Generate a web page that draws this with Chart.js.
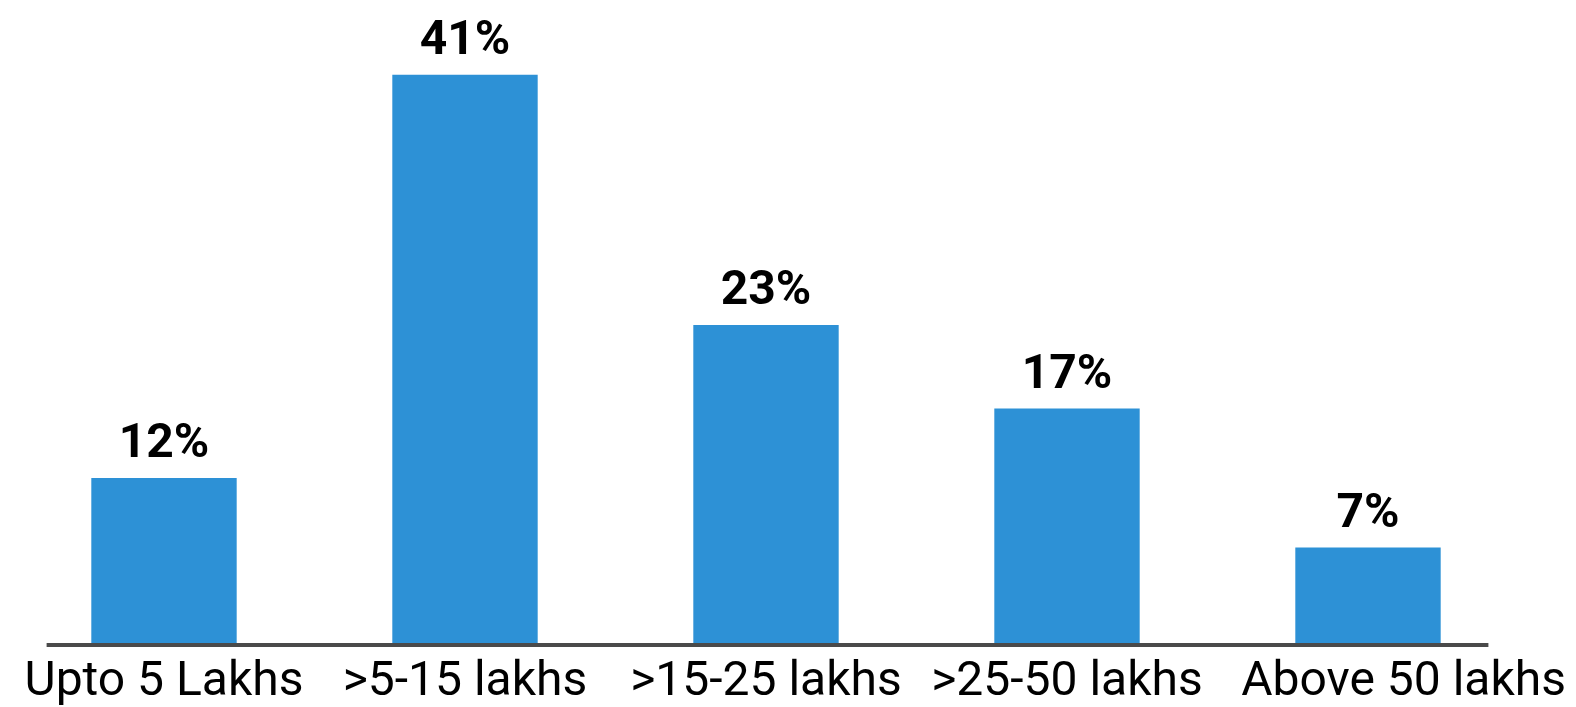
<!DOCTYPE html>
<html>
<head>
<meta charset="utf-8">
<script src="https://cdn.jsdelivr.net/npm/chart.js@4"></script>
<style>
  html, body { margin: 0; padding: 0; background: #fff; }
  #wrap { width: 1576px; height: 707px; }
</style>
</head>
<body>
<div id="wrap"><canvas id="c" width="1576" height="707"></canvas></div>
<script>
// Income bands and share of respondents (%)
const categories = ["Upto 5 Lakhs", ">5-15 lakhs", ">15-25 lakhs", ">25-50 lakhs", "Above 50 lakhs"];
const shares = [12, 41, 23, 17, 7];

const barColor = "#2d91d6";
const axisColor = "#4a4a4a";

// value labels above bars, baseline, and category labels
// (labels are kept inside the canvas: the last one is pushed against the right edge)
const decor = {
    id: "decor",
    afterDatasetsDraw(chart) {
        const ctx = chart.ctx;
        const x = chart.scales.x;
        const y = chart.scales.y;
        const y0 = y.getPixelForValue(0);
        ctx.save();
        ctx.strokeStyle = axisColor;
        ctx.lineWidth = 4;
        ctx.beginPath();
        ctx.moveTo(x.getPixelForValue(-0.39), y0);
        ctx.lineTo(x.getPixelForValue(4.4), y0);
        ctx.stroke();

        ctx.fillStyle = "#000";
        ctx.font = "bold 48px Roboto";
        ctx.textAlign = "center";
        ctx.textBaseline = "alphabetic";
        chart.getDatasetMeta(0).data.forEach((bar, i) => {
            ctx.fillText(shares[i] + "%", bar.x, bar.y - 21);
        });

        ctx.font = "48px Roboto";
        const margin = 10;
        categories.forEach((lab, i) => {
            const w = ctx.measureText(lab).width;
            let cx = x.getPixelForTick(i);
            if (i === categories.length - 1) cx = chart.width - margin - w / 2;
            cx = Math.max(margin + w / 2, Math.min(chart.width - margin - w / 2, cx));
            ctx.fillText(lab, cx, y0 + 50);
        });
        ctx.restore();
    }
};

new Chart(document.getElementById("c"), {
    type: "bar",
    data: {
        labels: categories,
        datasets: [{
            data: shares,
            backgroundColor: barColor,
            borderWidth: 0,
            categoryPercentage: 1,
            barPercentage: 0.483,
        }],
    },
    options: {
        responsive: false,
        animation: false,
        layout: { padding: { left: 13.5, right: 57.5, top: 19, bottom: 0 } },
        plugins: { legend: { display: false }, tooltip: { enabled: false } },
        scales: {
            x: {
                grid: { display: false, drawTicks: false },
                border: { display: false },
                ticks: { display: false },
                afterFit: (s) => { s.height = 62; },
            },
            y: {
                display: false,
                min: 0,
                max: 45,
            },
        },
    },
    plugins: [decor],
});
</script>
</body>
</html>
